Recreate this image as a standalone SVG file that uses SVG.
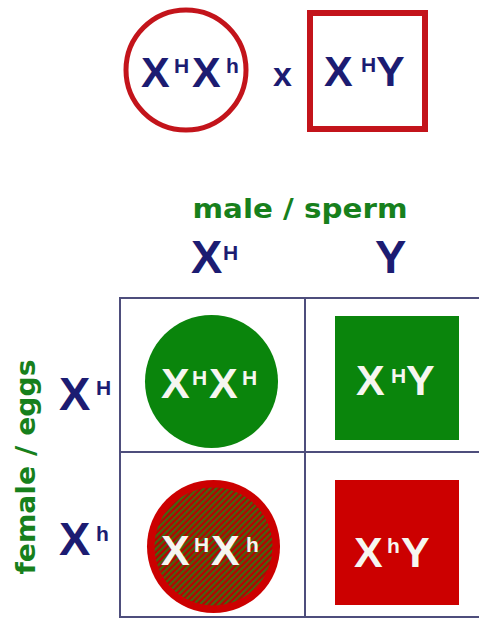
<svg xmlns="http://www.w3.org/2000/svg" width="479" height="620" viewBox="0 0 479 620">
  <style>
    .g { font-family: "Liberation Sans", Arial, sans-serif; font-weight: bold; }
    .navy { fill: #1c1c72; }
    .white { fill: #f6f6f0; }
    .lbl { font-family: "DejaVu Sans", "Liberation Sans", sans-serif; font-weight: bold; fill: #17801c; font-size: 26px; }
    .big { font-size: 43px; }
    .sup { font-size: 21px; }
    .hdr { font-size: 47px; }
    .grid { stroke: #4e4e7c; stroke-width: 2; fill: none; }
  </style>
  <defs>
    <pattern id="hatch" width="4.4" height="4.4" patternUnits="userSpaceOnUse" patternTransform="rotate(45)">
      <rect width="4.4" height="4.4" fill="#b80000"/>
      <rect width="2.2" height="4.4" fill="#44650f"/>
    </pattern>
  </defs>
  <rect width="479" height="620" fill="#ffffff"/>

  <g id="mother">
    <circle cx="186" cy="70" r="60" fill="none" stroke="#c3141b" stroke-width="5"/>
    <text class="g navy big"><tspan x="141" y="87">X</tspan><tspan class="sup" x="174" y="73">H</tspan><tspan x="192" y="87">X</tspan><tspan class="sup" x="226" y="73">h</tspan></text>
  </g>
  <g id="cross">
    <text class="g navy" x="273" y="86" font-size="34">x</text>
  </g>
  <g id="father">
    <rect x="310" y="13" width="115" height="116" fill="none" stroke="#c3141b" stroke-width="6"/>
    <text class="g navy big"><tspan x="324" y="86">X</tspan><tspan class="sup" x="361" y="72">H</tspan><tspan x="376" y="86">Y</tspan></text>
  </g>

  <g id="label-male">
    <text class="lbl" x="300" y="218" text-anchor="middle" textLength="215" lengthAdjust="spacingAndGlyphs">male / sperm</text>
  </g>
  <g id="label-female">
    <text class="lbl" transform="translate(35,467) rotate(-90)" x="0" y="0" text-anchor="middle" textLength="215" lengthAdjust="spacingAndGlyphs">female / eggs</text>
  </g>

  <g id="sperm-XH">
    <text class="g navy hdr"><tspan x="191" y="273">X</tspan><tspan class="sup" x="223" y="260">H</tspan></text>
  </g>
  <g id="sperm-Y">
    <text class="g navy hdr" x="375" y="273">Y</text>
  </g>
  <g id="egg-XH">
    <text class="g navy hdr"><tspan x="59" y="410">X</tspan><tspan class="sup" x="96" y="395">H</tspan></text>
  </g>
  <g id="egg-Xh">
    <text class="g navy hdr"><tspan x="59" y="555">X</tspan><tspan class="sup" x="96" y="541">h</tspan></text>
  </g>

  <g id="connectors">
    <line class="grid" x1="120" y1="298" x2="479" y2="298"/>
    <line class="grid" x1="120" y1="452" x2="479" y2="452"/>
    <line class="grid" x1="120" y1="617" x2="479" y2="617"/>
    <line class="grid" x1="120" y1="297" x2="120" y2="618"/>
    <line class="grid" x1="305" y1="298" x2="305" y2="617"/>
  </g>

  <g id="cell-XHXH">
    <circle cx="211.5" cy="381.5" r="66.5" fill="#0a850c"/>
    <text class="g white big"><tspan x="161" y="398">X</tspan><tspan class="sup" x="192" y="385">H</tspan><tspan x="209" y="398">X</tspan><tspan class="sup" x="242" y="385">H</tspan></text>
  </g>
  <g id="cell-XHY">
    <rect x="335" y="316" width="124" height="124" fill="#0a850c"/>
    <text class="g white big"><tspan x="356" y="395">X</tspan><tspan class="sup" x="391" y="383">H</tspan><tspan x="406" y="395">Y</tspan></text>
  </g>
  <g id="cell-XHXh">
    <circle cx="213.5" cy="546.5" r="66.5" fill="#cc0000"/>
    <circle cx="213.5" cy="546.5" r="59" fill="url(#hatch)"/>
    <text class="g white big"><tspan x="161" y="565">X</tspan><tspan class="sup" x="194" y="552">H</tspan><tspan x="211" y="565">X</tspan><tspan class="sup" x="246" y="552">h</tspan></text>
  </g>
  <g id="cell-XhY">
    <rect x="335" y="480" width="124" height="125" fill="#cc0000"/>
    <text class="g white big"><tspan x="354" y="567">X</tspan><tspan class="sup" x="387" y="553">h</tspan><tspan x="401" y="567">Y</tspan></text>
  </g>
</svg>
